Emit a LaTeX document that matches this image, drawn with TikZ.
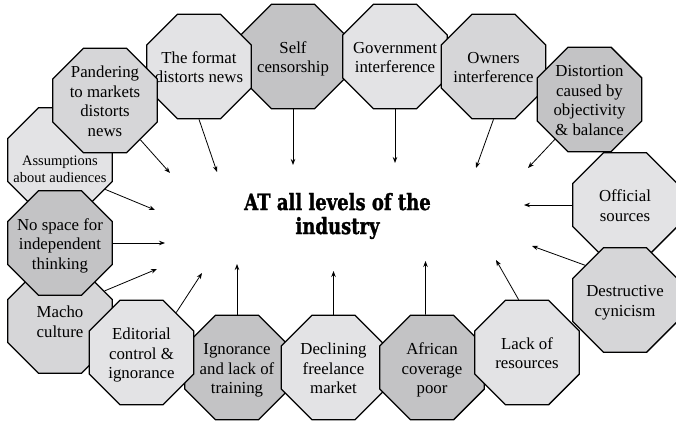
\documentclass[tikz,border=0pt]{standalone}
\usepackage{fontspec}
\setmainfont{Liberation Serif}
\newfontfamily\slabfont[FakeStretch=0.8,FakeBold=1.2]{DejaVu Serif}
\usepackage{tikz}
\usepackage{xcolor}
\usetikzlibrary{shapes.geometric,arrows.meta}
\definecolor{octlight}{HTML}{E3E3E5}
\definecolor{octmid}{HTML}{D6D6D8}
\definecolor{octdark}{HTML}{C3C3C5}
\newcommand{\octlines}[2][-7pt]{\makebox[0pt]{\raisebox{#1}[0pt][0pt]{\begin{tabular}{@{}c@{}}#2\end{tabular}}}}
\tikzset{
    oct-box/.style = {draw=black, line width=1.3pt, regular polygon, regular polygon sides=8, minimum size=113pt, inner sep=0pt, font=\fontsize{16.8}{19.5}\selectfont},
    oct-light/.style = {oct-box, fill=octlight},
    oct-mid/.style = {oct-box, fill=octmid},
    oct-dark/.style = {oct-box, fill=octdark},
    influence/.style = {-{Stealth[length=6pt,width=4.5pt]}, line width=0.8pt},
    core-text/.style = {font=\slabfont\bfseries\fontsize{22.5}{24}\selectfont, align=center, inner sep=0pt},
}

\begin{document}
\begin{tikzpicture}[x=1pt,y=-1pt]
\useasboundingbox (0,0) rectangle (676,422);
% octagons, from the back to the front
\node[oct-dark]  (self)   at (293,56.5)   {\octlines{Self\\censorship}};
\node[oct-light] (gov)    at (395,56.5)   {\octlines{Government\\interference}};
\node[oct-mid]   (owners) at (493.5,66.5) {\octlines{Owners\\interference}};
\node[oct-dark]  (distort) at (589.5,99.5) {\octlines{Distortion\\caused by\\objectivity\\\& balance}};
\node[oct-light] (official) at (625,205)  {\octlines{Official\\sources}};
\node[oct-mid]   (cynic)  at (625,300)    {\octlines{Destructive\\cynicism}};
\node[oct-light] (format) at (199,66.5)   {\octlines{The format\\distorts news}};
\node[oct-light, font=\fontsize{14.5}{17.5}\selectfont] (assume) at (60,160) {\octlines[-14pt]{Assumptions\\about audiences}};
\node[oct-mid]   (pander) at (105,100.5)  {\octlines{Pandering\\to markets\\distorts\\news}};
\node[oct-mid]   (macho)  at (60,321)     {\octlines{Macho\\culture}};
\node[oct-dark]  (nospace) at (60,243)    {\octlines{No space for\\independent\\thinking}};
\node[oct-dark]  (ignore) at (237,367.5)  {\octlines{Ignorance\\and lack of\\training}};
\node[oct-light] (editor) at (141.5,352.5) {\octlines{Editorial\\control \&\\ignorance}};
\node[oct-light] (freelance) at (333.5,367.5) {\octlines{Declining\\freelance\\market}};
\node[oct-dark]  (african) at (432,367.5)  {\octlines{African\\coverage\\poor}};
\node[oct-light] (lack)   at (527,352.5)  {\octlines{Lack of\\resources}};
% centre
\node[core-text] (core) at (337.5,216) {AT all levels of the\\industry};
% arrow tips round the centre
\coordinate (pander-tip) at (170,173);
\coordinate (format-tip) at (217,172);
\coordinate (self-tip) at (293,165);
\coordinate (gov-tip) at (395,163);
\coordinate (owners-tip) at (476,168);
\coordinate (distort-tip) at (528,168);
\coordinate (official-tip) at (524,205);
\coordinate (cynic-tip) at (532,246);
\coordinate (lack-tip) at (496,260);
\coordinate (african-tip) at (425.5,261);
\coordinate (freelance-tip) at (333.5,271);
\coordinate (ignore-tip) at (237,264);
\coordinate (editor-tip) at (202,273);
\coordinate (macho-tip) at (157,269);
\coordinate (nospace-tip) at (165,243);
\coordinate (assume-tip) at (155,210);
% arrows
\draw[influence] (pander.-48) -- (pander-tip);
\draw[influence] (format.south) -- (format-tip);
\draw[influence] (self.south) -- (self-tip);
\draw[influence] (gov.south) -- (gov-tip);
\draw[influence] (owners.south) -- (owners-tip);
\draw[influence] (distort.-131) -- (distort-tip);
\draw[influence] (official.west) -- (official-tip);
\draw[influence] (cynic.139) -- (cynic-tip);
\draw[influence] (lack.99) -- (lack-tip);
\draw[influence] (african.97) -- (african-tip);
\draw[influence] (freelance.north) -- (freelance-tip);
\draw[influence] (ignore.north) -- (ignore-tip);
\draw[influence] (editor.49) -- (editor-tip);
\draw[influence] (macho.34) -- (macho-tip);
\draw[influence] (nospace.east) -- (nospace-tip);
\draw[influence] (assume.-33) -- (assume-tip);
\end{tikzpicture}
\end{document}
